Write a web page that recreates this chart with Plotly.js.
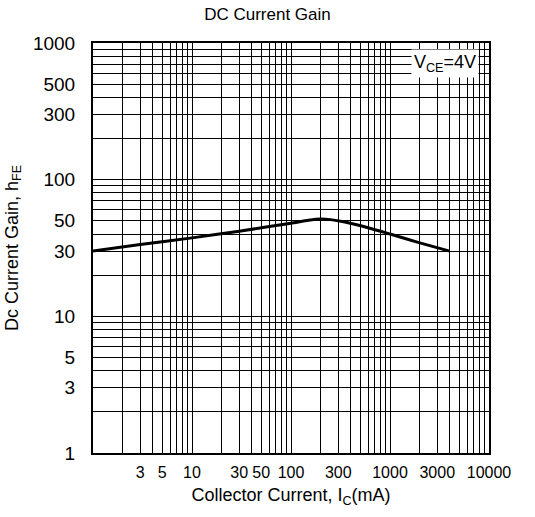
<!DOCTYPE html>
<html>
<head>
<meta charset="utf-8">
<script src="https://cdn.plot.ly/plotly-3.0.1.min.js"></script>
<style>html,body{margin:0;padding:0;background:#fff;}#chart{width:535px;height:517px;}</style>
</head>
<body>
<div id="chart"></div>
<script>
// Collector current (mA) and DC current gain
const collectorCurrent = [1, 3, 10, 30, 100, 150, 200, 250, 350, 600, 1000, 2000, 4000];
const dcGain = [30, 33.5, 37.5, 42, 48, 50.5, 51.5, 51, 49, 44.5, 40, 34.5, 30];

const xTickVals = [3, 5, 10, 30, 50, 100, 300, 1000, 3000, 10000];
const xTickText = ['3', '5', '10', '30', '50', '100', '300', '1000', '3000', '10000'];
const yTickVals = [1, 3, 5, 10, 30, 50, 100, 300, 500, 1000];
const yTickText = ['1', '3', '5', '10', '30', '50', '100', '300', '500', '1000'];

function gridValues(fromExp, toExp) {
  const v = [];
  for (let e = fromExp; e < toExp; e++) for (let d = 1; d <= 9; d++) v.push(d * Math.pow(10, e));
  v.push(Math.pow(10, toExp));
  return v;
}
const xGrid = gridValues(0, 4);
const yGrid = gridValues(0, 3);

const font = 'Liberation Sans, Arial, sans-serif';

const trace = {
  x: collectorCurrent, y: dcGain, type: 'scatter', mode: 'lines',
  line: {color: '#000', width: 3, shape: 'spline', smoothing: 0.6},
  hoverinfo: 'skip', showlegend: false
};

const layout = {
  width: 535, height: 517,
  margin: {l: 93, r: 46, t: 43, b: 64},
  paper_bgcolor: '#fff', plot_bgcolor: '#fff',
  title: {text: 'DC Current Gain', x: 0.5, xanchor: 'center', y: 0.985, yanchor: 'top',
          font: {family: font, size: 17, color: '#000'}},
  xaxis: {
    type: 'log', range: [0, 4],
    tickmode: 'array', tickvals: xTickVals, ticktext: xTickText,
    showgrid: true, gridcolor: '#000', gridwidth: 1,
    minor: {tickmode: 'array', tickvals: xGrid, showgrid: true, gridcolor: '#000', gridwidth: 1, ticks: ''},
    showline: true, linecolor: '#000', linewidth: 2, mirror: true,
    ticks: '', zeroline: false, ticklabelstandoff: 4,
    tickfont: {family: font, size: 16, color: '#000'},
    title: {text: 'Collector Current, I<sub>C</sub>(mA)', font: {family: font, size: 18, color: '#000'}, standoff: 8}
  },
  yaxis: {
    type: 'log', range: [0, 3],
    tickmode: 'array', tickvals: yTickVals, ticktext: yTickText,
    showgrid: true, gridcolor: '#000', gridwidth: 1,
    minor: {tickmode: 'array', tickvals: yGrid, showgrid: true, gridcolor: '#000', gridwidth: 1, ticks: ''},
    showline: true, linecolor: '#000', linewidth: 2, mirror: true,
    ticks: '', zeroline: false, ticklabelstandoff: 12,
    tickfont: {family: font, size: 19, color: '#000'},
    title: {text: 'Dc Current Gain, h<sub>FE</sub>', font: {family: font, size: 18, color: '#000'}, standoff: 10}
  },
  annotations: [{
    xref: 'paper', yref: 'paper', x: 0.975, y: 0.985, xanchor: 'right', yanchor: 'top',
    text: 'V<sub>CE</sub>=4V', showarrow: false,
    font: {family: font, size: 18, color: '#000'},
    bgcolor: '#fff', borderpad: 2
  }]
};

Plotly.newPlot('chart', [trace], layout, {displayModeBar: false, staticPlot: true});
</script>
</body>
</html>
